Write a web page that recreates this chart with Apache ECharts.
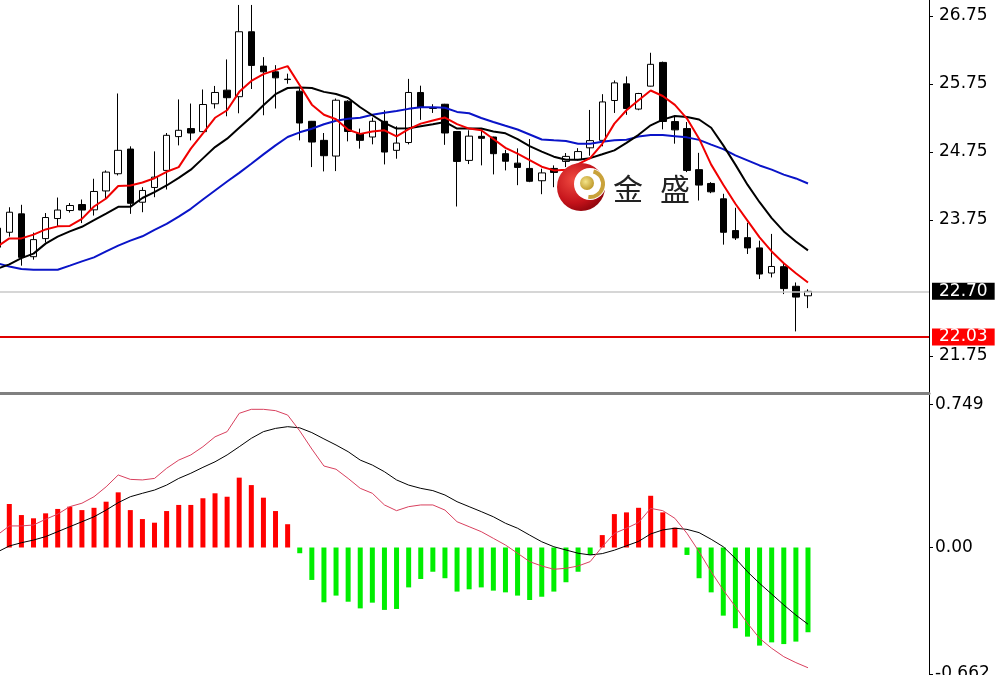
<!DOCTYPE html>
<html><head><meta charset="utf-8">
<script src="https://cdn.jsdelivr.net/npm/echarts@6/dist/echarts.min.js"></script>
<style>html,body{margin:0;padding:0;background:#fff;}#c{width:1004px;height:675px;}</style>
</head><body><div id="c"></div>
<script>
// slot -1 is the partly scrolled-off bar at the left edge
const slotCount = 78;
const categories = Array.from({length: slotCount}, (_, i) => String(i - 1));

// [open, close, low, high]
const candles = [
 [23.63,23.35,23.30,23.70],
 [23.569,23.864,23.505,23.937],[23.84,23.20,23.078,23.973],[23.21,23.461,23.166,23.564],[23.476,23.786,23.417,23.852],
 [23.771,23.896,23.653,24.08],[23.889,23.963,23.859,23.999],[23.977,23.896,23.704,24.051],[23.899,24.169,23.815,24.356],
 [24.177,24.454,24.051,24.479],[24.43,24.774,24.405,25.61],[24.793,23.995,23.84,24.833],[24.011,24.184,23.864,24.232],
 [24.228,24.38,24.085,24.759],[24.479,24.995,24.198,25.029],[24.976,25.069,24.847,25.523],[25.094,25.029,24.921,25.462],
 [25.049,25.448,25.044,25.669],[25.459,25.625,25.389,25.721],[25.659,25.548,25.275,26.111],[25.563,26.518,25.319,26.912],
 [26.518,26.023,25.676,26.912],[26.013,25.929,25.29,26.145],[25.929,25.84,25.389,26.027],[25.821,25.815,25.754,25.902],
 [25.644,25.176,24.921,25.688],[25.201,24.896,24.528,25.206],[24.921,24.695,24.464,25.029],[24.69,25.511,24.469,25.536],
 [25.496,25.051,24.906,25.511],[25.02,24.921,24.799,25.094],[24.97,25.201,24.862,25.256],[25.201,24.749,24.567,25.364],
 [24.774,24.881,24.651,25.128],[24.889,25.625,24.862,25.825],[25.625,25.408,25.222,25.725],[25.39,25.40,25.324,25.452],
 [25.452,25.029,24.855,25.458],[25.051,24.611,23.948,25.054],[24.626,24.983,24.572,25.069],[24.98,24.951,24.553,25.086],
 [24.97,24.725,24.42,24.975],[24.725,24.614,24.479,24.781],[24.586,24.523,24.262,24.803],[24.508,24.319,24.306,24.94],
 [24.327,24.442,24.129,24.504],[24.508,24.449,24.232,24.553],[24.611,24.685,24.528,24.734],[24.636,24.756,24.626,24.806],
 [24.811,24.917,24.695,25.368],[24.921,25.486,24.833,25.6],[25.507,25.766,25.324,25.802],[25.752,25.389,25.296,25.861],
 [25.381,25.61,25.364,25.619],[25.718,26.039,25.713,26.209],[26.067,25.198,25.083,26.079],[25.197,25.075,24.872,25.265],
 [25.094,24.479,24.454,25.191],[24.49,24.263,24.036,24.737],[24.287,24.164,24.144,24.306],[24.061,23.569,23.387,24.135],
 [23.594,23.486,23.456,23.929],[23.49,23.339,23.25,23.709],[23.339,22.955,22.881,23.446],[22.97,23.066,22.905,23.545],
 [23.063,22.741,22.66,23.126],[22.775,22.616,22.111,22.831],[22.635,22.70,22.454,22.73]
];

const maFast = [
 23.358,23.479,23.479,23.535,23.611,23.656,23.663,23.766,23.948,24.066,24.250,
 24.257,24.302,24.364,24.459,24.527,24.799,25.024,25.253,25.364,25.634,
 25.794,25.895,25.954,26.013,25.732,25.446,25.297,25.232,25.077,25.016,
 25.052,25.069,24.980,25.085,25.167,25.212,25.256,25.160,25.094,25.069,
 24.940,24.811,24.725,24.631,24.533,24.479,24.490,24.572,24.659,24.870,
 25.167,25.364,25.511,25.654,25.573,25.442,25.241,24.946,24.564,24.269,
 23.988,23.741,23.495,23.287,23.114,22.967,22.831
];
const maMid = [
 23.033,23.097,23.188,23.255,23.402,23.505,23.582,23.650,23.746,23.844,23.943,
 23.943,24.073,24.159,24.257,24.368,24.490,24.656,24.822,24.946,25.106,
 25.265,25.437,25.600,25.691,25.698,25.691,25.634,25.603,25.544,25.408,
 25.290,25.179,25.094,25.098,25.128,25.157,25.191,25.094,25.094,25.094,
 25.051,25.024,24.940,24.836,24.756,24.681,24.636,24.636,24.659,24.716,
 24.774,24.884,25.002,25.142,25.226,25.278,25.265,25.228,25.106,24.847,
 24.564,24.269,24.011,23.778,23.582,23.434,23.303
];
const maSlow = [
 23.114,23.067,23.029,23.019,23.019,23.019,23.078,23.141,23.200,23.288,23.372,
 23.446,23.510,23.604,23.693,23.800,23.914,24.051,24.184,24.316,24.442,
 24.577,24.715,24.847,24.970,25.039,25.091,25.157,25.209,25.238,25.253,
 25.297,25.327,25.352,25.384,25.408,25.408,25.400,25.339,25.319,25.249,
 25.191,25.135,25.080,25.007,24.933,24.921,24.911,24.872,24.872,24.899,
 24.921,24.931,24.976,24.999,24.999,24.983,24.965,24.928,24.859,24.791,
 24.700,24.626,24.552,24.490,24.417,24.361,24.287
];

const macdHist = [
 '-',
 0.228,0.170,0.153,0.179,0.202,0.214,0.196,0.208,0.240,0.289,
 0.196,0.149,0.130,0.191,0.223,0.223,0.258,0.284,0.266,0.366,
 0.327,0.261,0.191,0.122,-0.030,-0.170,-0.287,-0.252,-0.284,-0.319,
 -0.289,-0.327,-0.322,-0.209,-0.165,-0.127,-0.161,-0.231,-0.219,-0.209,
 -0.226,-0.235,-0.252,-0.275,-0.258,-0.231,-0.182,-0.127,-0.039,0.065,
 0.175,0.184,0.208,0.271,0.184,0.104,-0.039,-0.161,-0.235,-0.357,
 -0.423,-0.467,-0.514,-0.497,-0.506,-0.493,-0.444
];
const macdLine = [
 0.065,0.113,0.113,0.118,0.148,0.175,0.214,0.232,0.266,0.318,0.380,
 0.357,0.354,0.362,0.415,0.458,0.485,0.528,0.580,0.607,0.703,
 0.724,0.724,0.717,0.694,0.611,0.516,0.427,0.410,0.362,0.310,
 0.284,0.223,0.193,0.214,0.223,0.223,0.196,0.135,0.109,0.083,
 0.048,0.013,-0.030,-0.074,-0.097,-0.114,-0.109,-0.097,-0.074,0.004,
 0.074,0.101,0.131,0.205,0.193,0.153,0.074,-0.022,-0.127,-0.223,
 -0.310,-0.397,-0.476,-0.528,-0.572,-0.603,-0.630
];
const macdSignal = [
 -0.024,0.008,0.025,0.039,0.057,0.083,0.109,0.135,0.161,0.196,0.235,
 0.266,0.284,0.301,0.327,0.362,0.389,0.420,0.449,0.485,0.528,
 0.572,0.607,0.624,0.633,0.627,0.602,0.569,0.537,0.502,0.458,
 0.432,0.397,0.354,0.327,0.310,0.298,0.275,0.240,0.214,0.188,
 0.161,0.127,0.101,0.065,0.030,0.004,-0.013,-0.030,-0.039,-0.032,
 -0.014,0.009,0.032,0.071,0.092,0.101,0.095,0.078,0.043,0.004,
 -0.057,-0.127,-0.188,-0.244,-0.301,-0.354,-0.402
];

const priceTicks = [26.75, 25.75, 24.75, 23.75, 21.75];
const macdTicks = [0.749, 0, -0.662];
const macdTickLabels = ['0.749', '0.00', '-0.662'];
const lastPrice = 22.70;
const levelPrice = 22.03;

const axisFont = 'DejaVu Sans';
const chart = echarts.init(document.getElementById('c'), null, {renderer: 'canvas'});

const priceLabel = (bg) => ({
  show: true, position: 'end', distance: 3,
  color: '#fff', backgroundColor: bg, padding: [0, 7],
  fontSize: 17, fontFamily: axisFont, lineHeight: 17
});

chart.setOption({
  animation: false,
  backgroundColor: '#fff',
  grid: [
    {left: -2.8, right: 75, top: 0, height: 393.5, containLabel: false, outerBoundsMode: 'none'},
    {left: -2.8, right: 75, top: 395, height: 280, containLabel: false, outerBoundsMode: 'none'}
  ],
  xAxis: [
    {type: 'category', gridIndex: 0, data: categories, boundaryGap: false,
     axisLine: {show: true, onZero: false, lineStyle: {color: '#808080', width: 3}},
     axisTick: {show: false}, axisLabel: {show: false}, splitLine: {show: false}},
    {type: 'category', gridIndex: 1, data: categories, boundaryGap: false, show: false}
  ],
  yAxis: [
    {type: 'value', gridIndex: 0, position: 'right', min: 21.198, max: 26.985,
     axisLine: {show: true, lineStyle: {color: '#000', width: 1}},
     axisTick: {show: true, customValues: priceTicks, length: 4, lineStyle: {color: '#000'}},
     axisLabel: {customValues: priceTicks, formatter: v => v.toFixed(2), margin: 10,
                 fontSize: 17, fontFamily: axisFont, color: '#000'},
     splitLine: {show: false}},
    {type: 'value', gridIndex: 1, position: 'right', min: -0.668, max: 0.799,
     axisLine: {show: true, lineStyle: {color: '#000', width: 1}},
     axisTick: {show: true, customValues: macdTicks, length: 4, lineStyle: {color: '#000'}},
     axisLabel: {customValues: macdTicks,
                 formatter: v => { const k = macdTicks.findIndex(t => Math.abs(t - v) < 1e-6); return k >= 0 ? macdTickLabels[k] : ''; },
                 margin: 6, fontSize: 17, fontFamily: axisFont, color: '#000'},
     splitLine: {show: false}}
  ],
  series: [
    {type: 'candlestick', xAxisIndex: 0, yAxisIndex: 0, data: candles, barWidth: 7, clip: false, z: 2,
     itemStyle: {color: '#ffffff', color0: '#000000', borderColor: '#000000', borderColor0: '#000000', borderWidth: 1},
     markLine: {silent: true, symbol: 'none', animation: false,
       data: [
         {yAxis: lastPrice, lineStyle: {color: '#c8c8c8', width: 1.5, type: 'solid'},
          label: Object.assign(priceLabel('#000000'), {formatter: lastPrice.toFixed(2)})},
         {yAxis: levelPrice, symbol: ['emptyRect', 'none'], symbolSize: [7, 5],
          lineStyle: {color: '#e00000', width: 2, type: 'solid'},
          label: Object.assign(priceLabel('#ff0000'), {formatter: levelPrice.toFixed(2)})}
       ]}},
    {type: 'line', xAxisIndex: 0, yAxisIndex: 0, data: maSlow, symbol: 'none', z: 3,
     lineStyle: {color: '#0a14c8', width: 2}},
    {type: 'line', xAxisIndex: 0, yAxisIndex: 0, data: maMid, symbol: 'none', z: 4,
     lineStyle: {color: '#000000', width: 2}},
    {type: 'line', xAxisIndex: 0, yAxisIndex: 0, data: maFast, symbol: 'none', z: 5,
     lineStyle: {color: '#f00000', width: 2}},
    {type: 'bar', xAxisIndex: 1, yAxisIndex: 1, data: macdHist, barWidth: 5,
     itemStyle: {color: p => (p.value >= 0 ? '#ff0000' : '#00ee00')}},
    {type: 'line', xAxisIndex: 1, yAxisIndex: 1, data: macdSignal, symbol: 'none', z: 4,
     lineStyle: {color: '#000000', width: 1}},
    {type: 'line', xAxisIndex: 1, yAxisIndex: 1, data: macdLine, symbol: 'none', z: 5,
     lineStyle: {color: '#d8405e', width: 1}}
  ],
  graphic: [
    {type: 'circle', z: 100, shape: {cx: 581, cy: 187, r: 24},
     style: {fill: {type: 'radial', x: 0.35, y: 0.35, r: 0.8,
       colorStops: [{offset: 0, color: '#ef4a40'}, {offset: 0.6, color: '#c4121a'}, {offset: 1, color: '#7a0008'}]}}},
    {type: 'circle', z: 101, shape: {cx: 590, cy: 184, r: 16}, style: {fill: '#ffffff'}},
    {type: 'arc', z: 102, shape: {cx: 590, cy: 184, r: 13, startAngle: -1.3, endAngle: 1.7},
     style: {stroke: '#c9a23a', lineWidth: 4, fill: null}},
    {type: 'circle', z: 103, shape: {cx: 587, cy: 183, r: 7},
     style: {fill: {type: 'radial', x: 0.4, y: 0.4, r: 0.7,
       colorStops: [{offset: 0, color: '#f4e48a'}, {offset: 1, color: '#b8901e'}]}}},
    {type: 'text', z: 103, x: 613, y: 189,
     style: {text: '金', font: '30px "Noto Sans CJK SC"', fill: '#222222', verticalAlign: 'middle'}},
    {type: 'text', z: 103, x: 660, y: 189,
     style: {text: '盛', font: '30px "Noto Sans CJK SC"', fill: '#222222', verticalAlign: 'middle'}}
  ]
});
</script></body></html>
